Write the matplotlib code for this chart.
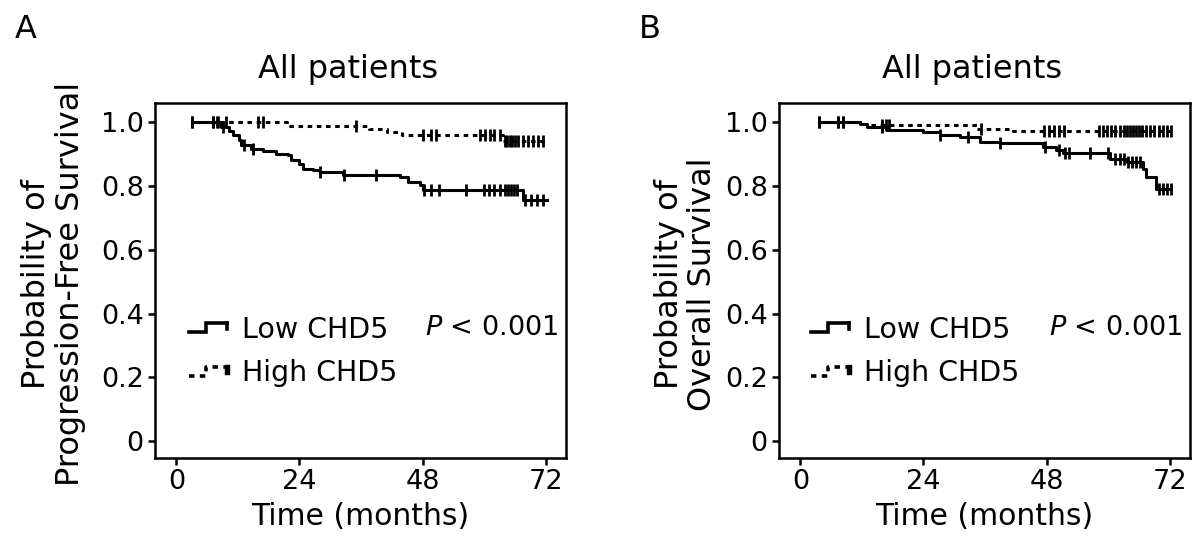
import numpy as np
import matplotlib
matplotlib.use("Agg")
import matplotlib.pyplot as plt
from matplotlib.legend_handler import HandlerBase
from matplotlib.lines import Line2D

plt.rcParams['font.family'] = ['DejaVu Sans']
plt.rcParams['mathtext.fontset'] = 'dejavusans'

# ---------------- data ----------------
x_ticks = [0, 24, 48, 72]
y_ticks = [0, 0.2, 0.4, 0.6, 0.8, 1.0]
y_tick_labels = ["0", "0.2", "0.4", "0.6", "0.8", "1.0"]
series_names = ["Low CHD5", "High CHD5"]
panel_letters = ["A", "B"]
panel_titles = ["All patients", "All patients"]
y_labels = ["Probability of\nProgression-Free Survival", "Probability of\nOverall Survival"]
x_label = "Time (months)"
p_text = r"$\mathit{P}$ < 0.001"
end_time = 72.3

# Panel A: progression-free survival
pfs_low_t = [3.0, 8.7, 10.3, 11.0, 12.3, 12.6, 14.6, 16.8, 19.4, 21.7, 22.4, 24.0, 24.6,
             26.6, 27.9, 32.4, 43.5, 45.1, 47.4, 48.1, 67.6]
pfs_low_s = [1.0, 0.985, 0.973, 0.959, 0.944, 0.928, 0.917, 0.910, 0.902, 0.897, 0.883, 0.870,
             0.855, 0.850, 0.844, 0.834, 0.827, 0.813, 0.802, 0.787, 0.755]
pfs_low_cens = [3.0, 7.1, 8.1, 9.1, 13.2, 15.0, 27.9, 32.7, 39.0, 48.3, 49.7, 51.2, 56.4,
                60.0, 61.0, 62.0, 63.0, 64.0, 64.6, 65.2, 65.8, 66.4, 68.0, 69.2, 70.3, 71.4]
pfs_high_t = [3.0, 21.5, 37.5, 41.0, 44.0, 63.6]
pfs_high_s = [1.0, 0.987, 0.980, 0.970, 0.959, 0.940]
pfs_high_cens = [3.0, 7.1, 7.9, 9.7, 15.9, 16.8, 35.1, 48.1, 49.7, 50.7, 59.1, 60.1, 61.1,
                 62.0, 63.0, 64.0, 64.5, 65.0, 65.5, 66.0, 66.5, 67.5, 68.5, 69.5, 70.5, 71.4]

# Panel B: overall survival
os_low_t = [3.6, 11.7, 13.0, 16.9, 24.0, 27.2, 31.1, 35.0, 38.9, 47.3, 49.9, 51.2, 60.3,
            63.6, 66.8, 67.4, 69.4]
os_low_s = [1.0, 0.995, 0.985, 0.977, 0.968, 0.959, 0.954, 0.938, 0.935, 0.922, 0.912, 0.904,
            0.886, 0.876, 0.855, 0.829, 0.792]
os_low_cens = [3.6, 7.4, 8.4, 15.9, 27.2, 32.6, 38.9, 47.6, 50.5, 51.5, 52.4, 56.5, 60.0,
               61.3, 62.2, 63.0, 63.8, 64.6, 65.4, 66.2, 69.8, 70.6, 71.4, 72.2]
os_high_t = [3.6, 11.7, 13.5, 34.4, 41.5]
os_high_s = [1.0, 0.995, 0.991, 0.980, 0.973]
os_high_cens = [3.6, 7.4, 8.4, 15.9, 16.6, 17.2, 35.3, 47.5, 48.5, 49.5, 50.5, 51.3, 58.2,
                59.0, 59.8, 60.6, 61.4, 62.2, 63.0, 63.6, 64.2, 64.8, 65.4, 66.0, 66.6, 67.4,
                68.2, 69.0, 69.8, 70.6, 71.4, 72.2]

panels = [
    (pfs_low_t, pfs_low_s, pfs_low_cens, pfs_high_t, pfs_high_s, pfs_high_cens),
    (os_low_t, os_low_s, os_low_cens, os_high_t, os_high_s, os_high_cens),
]

LW = 2.2
DASH = (0, (1.5, 1.5))


class StepHandler(HandlerBase):
    def __init__(self, dashed):
        super().__init__()
        self.dashed = dashed

    def create_artists(self, legend, orig_handle, xdescent, ydescent, width, height,
                       fontsize, trans):
        x0 = -xdescent
        yc = -ydescent + height / 2.0
        h = 0.16 * fontsize
        xs = [x0, x0 + 0.42 * width, x0 + 0.42 * width, x0 + 0.93 * width]
        ys = [yc - h, yc - h, yc + h, yc + h]
        ln = Line2D(xs, ys, color='black', lw=LW + 0.4,
                    linestyle=DASH if self.dashed else '-', solid_joinstyle='miter')
        ln.set_transform(trans)
        end = Line2D([x0 + 0.93 * width, x0 + 0.93 * width], [yc + h, yc - 0.2 * h],
                     color='black', lw=(LW + 0.4) * (1.5 if self.dashed else 1.0))
        end.set_transform(trans)
        return [ln, end]


def surv_at(t_steps, s_steps, tq):
    idx = np.searchsorted(np.asarray(t_steps), np.asarray(tq), side='right') - 1
    idx = np.clip(idx, 0, len(s_steps) - 1)
    return np.asarray(s_steps)[idx]


fig = plt.figure(figsize=(12, 5.51), dpi=100)
axes = [fig.add_axes([0.129, 0.1688, 0.3425, 0.644]),
        fig.add_axes([0.649, 0.1688, 0.3425, 0.644])]
letter_x = [0.0125, 0.532]
ylabel_x = [-0.168, -0.148]

for i, ax in enumerate(axes):
    lt, ls_, lc, ht, hs, hc = panels[i]
    low_line, = ax.step(list(lt) + [end_time], list(ls_) + [ls_[-1]], where='post',
                        color='black', lw=LW)
    high_line, = ax.step(list(ht) + [end_time], list(hs) + [hs[-1]], where='post',
                         color='black', lw=LW, linestyle=DASH)
    ax.plot(lc, surv_at(lt, ls_, lc), ls='none', marker='|', ms=8, mew=2.0, color='black')
    ax.plot(hc, surv_at(ht, hs, hc), ls='none', marker='|', ms=8, mew=2.0, color='black')

    ax.set_xlim(-4.2, 75.9)
    ax.set_ylim(-0.053, 1.06)
    ax.set_xticks(x_ticks)
    ax.set_xticklabels([str(v) for v in x_ticks])
    ax.set_yticks(y_ticks)
    ax.set_yticklabels(y_tick_labels)
    ax.tick_params(axis='both', direction='out', length=5, width=1.8, labelsize=19.5,
                   pad=3, colors='black')
    for sp in ax.spines.values():
        sp.set_linewidth(1.8)
        sp.set_color('black')

    ax.set_xlabel(x_label, fontsize=21.5, labelpad=5)
    ax.set_ylabel(y_labels[i], fontsize=23, linespacing=1.1)
    ax.yaxis.set_label_coords(ylabel_x[i], 0.49)

    ax.text(0.47, 1.07, panel_titles[i], transform=ax.transAxes, ha='center',
            va='baseline', fontsize=23)
    fig.text(letter_x[i], 0.931, panel_letters[i], ha='left', va='baseline', fontsize=23)

    ax.text(0.657, 0.366, p_text, transform=ax.transAxes, ha='left', va='center',
            fontsize=19.5)

    ax.legend([low_line, high_line], series_names,
              handler_map={low_line: StepHandler(False), high_line: StepHandler(True)},
              loc='center left', bbox_to_anchor=(0.083 if i == 0 else 0.078, 0.30),
              frameon=False, fontsize=20.5, handlelength=1.45, handletextpad=0.42,
              labelspacing=0.55, borderpad=0, borderaxespad=0)

fig.savefig("out.png", dpi=100)
